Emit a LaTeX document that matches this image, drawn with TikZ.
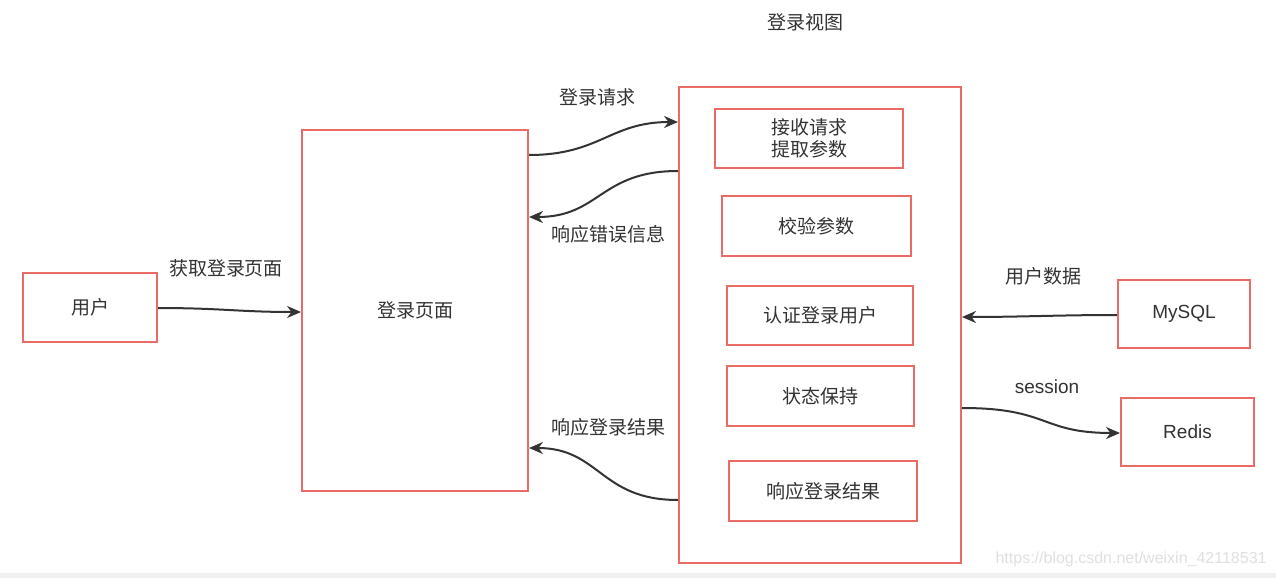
\documentclass[tikz,border=0pt]{standalone}
\usepackage{fontspec}
\setmainfont{Noto Sans CJK SC}
\newfontfamily\latinfont{Liberation Sans}
\usetikzlibrary{arrows.meta}
\definecolor{boxred}{HTML}{EA6B66}
\definecolor{linegray}{HTML}{333333}
\definecolor{txtgray}{HTML}{333333}
\tikzset{
  box/.style={draw=boxred, line width=1pt, fill=white, inner sep=0pt, text=txtgray, align=center},
  conn/.style={draw=linegray, line width=1pt, -{Stealth[length=7pt,width=6pt]}},
  lbl/.style={text=txtgray, inner sep=0pt},
}
\begin{document}
\begin{tikzpicture}[x=0.5pt,y=-0.5pt,font=\fontsize{9.5}{12}\selectfont]
\fill[white] (0,0) rectangle (1276,578);
\fill[black!6] (0,573) rectangle (1276,578);
\useasboundingbox (0,0) rectangle (1276,578);
% boxes
\node[box, minimum width=67pt, minimum height=34.5pt] (user) at (90,307.5) {用户};
\node[box, minimum width=113pt, minimum height=180.5pt] (page) at (415,310.5) {登录页面};
\node[box, minimum width=141pt, minimum height=238pt] (view) at (820,325) {};
\node[lbl] (title) at (805,22) {登录视图};
\node[box, minimum width=94pt, minimum height=29.5pt] (recv) at (809,138.5) {接收请求\\[-1pt]提取参数};
\node[box, minimum width=94.5pt, minimum height=30pt] (check) at (816.5,226) {校验参数};
\node[box, minimum width=93pt, minimum height=29.5pt] (auth) at (820,315.5) {认证登录用户};
\node[box, minimum width=93.5pt, minimum height=30pt] (keep) at (820.5,396) {状态保持};
\node[box, minimum width=94pt, minimum height=30pt] (resp) at (823,491) {响应登录结果};
\node[box, minimum width=66pt, minimum height=34pt, font=\latinfont\fontsize{9.5}{12}\selectfont] (mysql) at (1184,314) {MySQL};
\node[box, minimum width=66.5pt, minimum height=34pt, font=\latinfont\fontsize{9.5}{12}\selectfont] (redis) at (1187.5,432) {Redis};
% anchor coordinates
\coordinate (u1) at (user.east |- 0,308);
\coordinate (p1) at (page.west |- 0,312);
\coordinate (p2) at (page.east |- 0,155);
\coordinate (v2) at (view.west |- 0,122);
\coordinate (v3) at (view.west |- 0,171);
\coordinate (p3) at (page.east |- 0,217);
\coordinate (v4) at (view.west |- 0,500);
\coordinate (p4) at (page.east |- 0,448);
\coordinate (m1) at (mysql.west |- 0,315);
\coordinate (v5) at (view.east |- 0,317);
\coordinate (v6) at (view.east |- 0,408);
\coordinate (r1) at (redis.west |- 0,433);
% connectors
\draw[conn] (u1) .. controls (220,308) and (240,312) .. (p1);
\draw[conn] (p2) .. controls (600,155) and (610,122) .. (v2);
\draw[conn] (v3) .. controls (600,171) and (600,217) .. (p3);
\draw[conn] (v4) .. controls (600,500) and (600,448) .. (p4);
\draw[conn] (m1) .. controls (1060,315) and (1020,317) .. (v5);
\draw[conn] (v6) .. controls (1050,408) and (1040,433) .. (r1);
% labels
\node[lbl] (l1) at (226,268) {获取登录页面};
\node[lbl] (l2) at (597,97) {登录请求};
\node[lbl] (l3) at (608,234) {响应错误信息};
\node[lbl] (l4) at (608,427) {响应登录结果};
\node[lbl] (l5) at (1043,276) {用户数据};
\node[lbl, font=\latinfont\fontsize{9.5}{12}\selectfont] (l6) at (1047,387) {session};
\node[lbl, text=black!12, anchor=east, font=\latinfont\fontsize{8}{10}\selectfont] (wm) at (1267,559) {https://blog.csdn.net/weixin\_42118531};
\end{tikzpicture}
\end{document}
